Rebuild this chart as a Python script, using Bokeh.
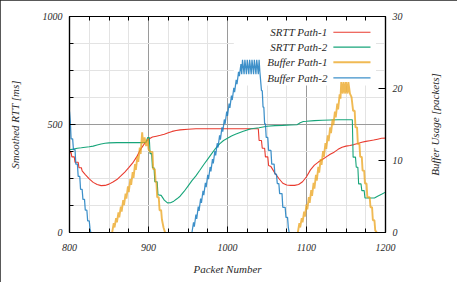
import numpy as np
from bokeh.plotting import figure
from bokeh.models import Range1d, LinearAxis, FixedTicker, BoxAnnotation, Label
from bokeh.embed import file_html
from bokeh.resources import INLINE

# ---------------- data ----------------
srtt1_pkt = [800, 802, 803, 806, 807, 811, 812, 815, 816, 820, 825, 830, 835, 840, 845, 850, 855, 860, 865, 870,
             875, 880, 885, 890, 895, 900, 905, 910, 915, 920, 925, 930, 935, 940, 950, 960, 1000, 1039, 1040, 1043,
             1044, 1047, 1048, 1051, 1052, 1055, 1060, 1065, 1070, 1075, 1080, 1085, 1090, 1095, 1100, 1105, 1110,
             1115, 1120, 1125, 1130, 1135, 1140, 1145, 1150, 1155, 1160, 1165, 1170, 1175, 1180, 1185, 1190, 1195, 1200]
srtt1_ms = [370, 370, 350, 350, 325, 325, 300, 300, 285, 268, 248, 232, 222, 217, 218, 224, 234, 245, 262, 280,
            300, 322, 350, 385, 412, 432, 442, 446, 450, 455, 462, 468, 472, 475, 478, 480, 480, 480, 426, 426,
            390, 390, 350, 350, 310, 305, 275, 250, 228, 220, 218, 218, 222, 235, 258, 290, 312,
            326, 338, 350, 362, 372, 385, 395, 400, 403, 407, 412, 418, 422, 425, 428, 432, 436, 437]

srtt2_pkt = [800, 805, 810, 815, 820, 825, 830, 835, 840, 845, 850, 860, 870, 880, 890, 897, 899, 901, 902, 904,
             905, 907, 908, 911, 912, 916, 920, 924, 928, 932, 936, 940, 945, 950, 955, 960, 965, 970, 975, 980,
             985, 990, 995, 1000, 1005, 1010, 1015, 1020, 1025, 1030, 1040, 1050, 1060, 1070, 1080, 1088, 1092,
             1096, 1100, 1110, 1120, 1130, 1140, 1150, 1158, 1159, 1162, 1163, 1165, 1166, 1169, 1170, 1173, 1174,
             1186, 1190, 1195, 1200]
srtt2_ms = [383, 386, 390, 392, 395, 397, 400, 405, 410, 413, 415, 416, 416, 416, 416, 418, 440, 440, 365, 365,
            300, 300, 235, 235, 175, 172, 150, 137, 138, 145, 156, 168, 190, 215, 240, 262, 288, 315, 340, 365,
            390, 410, 426, 436, 447, 455, 462, 469, 475, 480, 485, 492, 495, 496, 498, 499, 508,
            514, 515, 518, 520, 521, 522, 522, 522, 349, 349, 302, 302, 225, 225, 194, 194, 160,
            160, 168, 177, 187]

buf1_a_pkt = [854, 856, 857, 859, 860, 862, 863, 865, 866, 868, 869, 871, 872, 874, 875, 877, 878, 880, 881, 883,
              884, 886, 887, 889, 890, 892, 893, 895, 897, 899, 900, 902, 905, 906, 908, 909, 910, 911, 913, 914,
              916, 917, 919, 921]
buf1_a_val = [0, 1.3, 0.7, 2.0, 1.4, 2.8, 2.1, 3.6, 2.9, 4.5, 3.8, 5.4, 4.7, 6.4, 5.6, 7.4, 6.6, 8.4, 7.6, 9.5,
              8.7, 10.6, 9.8, 11.8, 10.9, 13.9, 12.4, 13.2, 12.0, 13.0, 11.6, 11.2, 11.2, 8.8, 8.8, 7.0, 7.0, 4.9, 4.9, 3.1,
              3.1, 1.8, 0.7, 0]
buf1_b_pkt = [1089, 1091, 1092, 1094, 1095, 1097, 1098, 1100, 1101, 1103, 1104, 1106, 1107, 1109, 1110, 1112, 1113,
              1115, 1116, 1118, 1119, 1121, 1122, 1124, 1125, 1127, 1128, 1130, 1131, 1133, 1134, 1136, 1137, 1139,
              1140, 1142, 1143, 1144, 1146, 1147, 1149, 1150, 1152, 1153, 1155, 1157,
              1159, 1161, 1162, 1164, 1165, 1167, 1168, 1170, 1171, 1173, 1174, 1176, 1177, 1180, 1181, 1183, 1184,
              1186, 1187, 1189]
buf1_b_val = [0, 1.3, 0.7, 2.0, 1.4, 2.9, 2.2, 3.9, 3.2, 4.9, 4.1, 5.9, 5.1, 6.9, 6.1, 8.0, 7.2,
              9.1, 8.3, 10.2, 9.4, 11.3, 10.5, 12.4, 11.6, 13.5, 12.7, 14.6, 13.8, 15.7, 14.9, 16.8, 16.0, 17.9,
              17.1, 19.2, 18.6, 20.9, 19.3, 20.9, 19.3, 20.9, 19.3, 20.9, 19.3, 18.8,
              16.9, 16.9, 14.6, 14.6, 12.3, 12.3, 10.5, 10.5, 8.6, 8.6, 6.8, 6.8, 4.9, 4.9, 3.5, 3.5, 1.7,
              1.7, 0.3, 0]

buf2_a_pkt = [800, 801, 802, 804, 805, 807, 808, 810, 811, 813, 814, 816, 817, 819, 820, 822, 823, 825, 826, 827]
buf2_a_val = [16.8, 15.5, 13.0, 13.0, 11.5, 11.5, 9.5, 9.5, 7.8, 7.8, 6.0, 6.0, 4.6, 4.6, 3.1, 3.1, 1.6, 1.6, 0.5, 0]
buf2_b_pkt = [955, 957, 958, 960, 961, 963, 964, 966, 967, 969, 970, 972, 973, 975, 976, 978, 979, 981, 982, 984,
              985, 987, 988, 990, 991, 993, 994, 996, 997, 999, 1000, 1002, 1003, 1005, 1006, 1008, 1009, 1011,
              1012, 1014, 1015, 1017, 1018, 1019, 1021, 1022, 1024, 1025, 1027, 1028, 1030, 1031, 1033, 1034,
              1036, 1037, 1039, 1040, 1041, 1043, 1044, 1045, 1046, 1047, 1048,
              1049, 1051, 1052, 1055, 1056, 1059, 1060, 1062, 1063, 1065, 1066, 1069, 1070, 1073, 1074, 1076, 1077,
              1078]
buf2_b_val = [0, 1.4, 0.8, 2.5, 1.9, 3.6, 3.0, 4.7, 4.1, 5.8, 5.2, 6.9, 6.3, 8.0, 7.4, 9.1, 8.5, 10.2, 9.6, 11.3,
              10.7, 12.4, 11.8, 13.5, 12.9, 14.6, 14.0, 15.7, 15.1, 16.8, 16.2, 17.9, 17.3, 19.0, 18.4, 20.1, 19.5, 21.2,
              20.6, 22.3, 21.7, 23.4, 22.0, 24.0, 22.0, 24.0, 22.0, 24.0, 22.0, 24.0, 22.0, 24.0, 22.0, 24.0,
              22.0, 24.0, 22.0, 24.0, 22.3, 19.7, 19.7, 17.4, 17.4, 15.1, 15.1,
              13.2, 13.2, 11.4, 11.4, 9.5, 9.5, 8.1, 8.1, 6.8, 6.8, 5.4, 5.4, 3.5, 3.5, 2.1, 2.1, 0.7,
              0]

x_major = [800, 900, 1000, 1100, 1200]
x_minor = [v for v in range(800, 1201, 25) if v % 100 != 0]
y_major = [0, 500, 1000]
y_minor = [125, 250, 375, 625, 750, 875]
buf_ticks = [0, 10, 20, 30]

labels = ["SRTT Path-1", "SRTT Path-2", "Buffer Path-1", "Buffer Path-2"]

# ---------------- styles ----------------
FONT = "Liberation Serif"
TXT = "#2a2a2a"
RED, GREEN, ORANGE, BLUE = "#e93a2e", "#17a57a", "#eba31b", "#1b7cc0"
styles = [dict(line_color=RED, line_width=1.1),
          dict(line_color=GREEN, line_width=1.1),
          dict(line_color=ORANGE, line_width=1.9, line_alpha=0.75),
          dict(line_color=BLUE, line_width=1.25, line_alpha=0.85)]

p = figure(width=457, height=282, x_range=Range1d(800, 1200), y_range=Range1d(0, 1000),
           output_backend="svg", toolbar_location=None,
           min_border_left=69, min_border_right=72, min_border_top=16, min_border_bottom=50)
p.extra_y_ranges = {"buf": Range1d(0, 30)}
p.background_fill_color = "white"
p.border_fill_color = "white"
p.outline_line_color = "black"
p.outline_line_width = 1.2
p.styles = {"outline": "1.5px solid #222222", "outline-offset": "-1.5px"}

# grids
p.xgrid.ticker = FixedTicker(ticks=[900, 1000, 1100], minor_ticks=x_minor)
p.xgrid.grid_line_color = "#9a9a9a"
p.xgrid.grid_line_width = 1
p.xgrid.minor_grid_line_color = "#e3e3e3"
p.ygrid.ticker = FixedTicker(ticks=[500], minor_ticks=y_minor)
p.ygrid.grid_line_color = "#9a9a9a"
p.ygrid.grid_line_width = 1
p.ygrid.minor_grid_line_color = "#e3e3e3"


def style_axis(ax):
    ax.axis_line_color = "black"
    ax.axis_line_width = 1.2
    ax.major_tick_line_color = "black"
    ax.minor_tick_line_color = "black"
    ax.major_tick_out = 0
    ax.minor_tick_out = 0
    ax.major_tick_in = 6
    ax.minor_tick_in = 4
    ax.major_label_text_font = FONT
    ax.major_label_text_font_style = "italic"
    ax.major_label_text_font_size = "10px"
    ax.major_label_text_color = TXT
    ax.axis_label_text_font = FONT
    ax.axis_label_text_font_style = "italic"
    ax.axis_label_text_font_size = "11px"
    ax.axis_label_text_color = TXT


xa = p.xaxis[0]
xa.ticker = FixedTicker(ticks=x_major, minor_ticks=x_minor)
style_axis(xa)
xa.major_label_standoff = 11
xa.axis_label = "Packet Number"
xa.axis_label_standoff = 9

ya = p.yaxis[0]
ya.ticker = FixedTicker(ticks=y_major, minor_ticks=y_minor)
style_axis(ya)
ya.major_label_standoff = 7
ya.axis_label = "Smoothed RTT [ms]"
ya.axis_label_standoff = 19

top = LinearAxis(ticker=FixedTicker(ticks=[], minor_ticks=x_major + x_minor))
style_axis(top)
p.add_layout(top, "above")

right = LinearAxis(y_range_name="buf", ticker=FixedTicker(ticks=buf_ticks, minor_ticks=[]))
style_axis(right)
right.major_tick_in = 7
right.major_label_standoff = 7
p.add_layout(right, "right")

# right axis title, reading bottom to top, in the right side panel (not clipped)
p.add_layout(Label(x=1263, y=500, text="Buffer Usage [packets]", angle=np.pi / 2,
                   text_align="center", text_baseline="middle", text_font=FONT,
                   text_font_style="italic", text_font_size="11px", text_color=TXT), "right")

# legend background (white box over grid, under data)
p.add_layout(BoxAnnotation(left=1008, right=1188, bottom=680, top=1000, fill_color="white",
                           fill_alpha=1, line_alpha=0, level="underlay"))

# data
p.line(srtt1_pkt, srtt1_ms, **styles[0])
p.line(srtt2_pkt, srtt2_ms, **styles[1])
b1x = buf1_a_pkt + [np.nan] + buf1_b_pkt
b1y = buf1_a_val + [np.nan] + buf1_b_val
p.line(b1x, b1y, y_range_name="buf", **styles[2])
b2x = buf2_a_pkt + [np.nan] + buf2_b_pkt
b2y = buf2_a_val + [np.nan] + buf2_b_val
p.line(b2x, b2y, y_range_name="buf", **styles[3])

# custom legend: text then sample line
leg_rows = [927, 858, 788, 716]
for lab, yy, st in zip(labels, leg_rows, styles):
    p.add_layout(Label(x=1126.5, y=yy, text=lab, text_align="right", text_baseline="middle",
                       text_font=FONT, text_font_style="italic", text_font_size="11px",
                       text_color=TXT))
    p.line([1134, 1181], [yy, yy], **st)

open("out.html", "w").write(file_html(p, INLINE))
